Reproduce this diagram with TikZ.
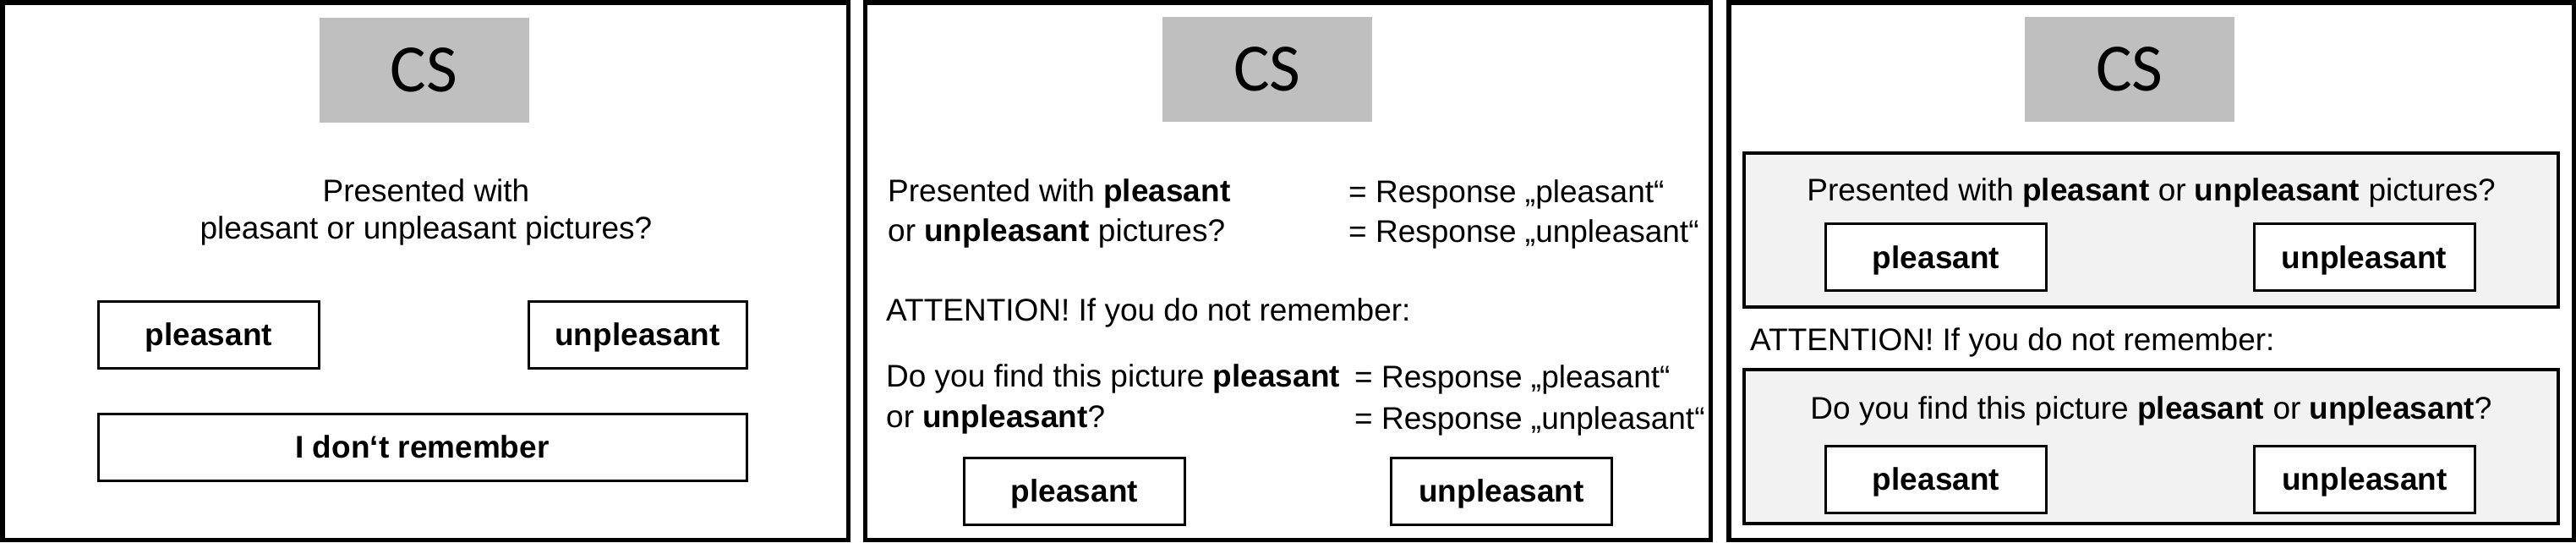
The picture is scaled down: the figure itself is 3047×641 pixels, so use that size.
\documentclass[tikz,border=0pt]{standalone}
\usepackage{fontspec}
\setmainfont{Liberation Sans}
\newfontfamily\csfont{Carlito}
\definecolor{csgray}{HTML}{BFBFBF}
\definecolor{boxgray}{HTML}{F2F2F2}
\begin{document}
\begin{tikzpicture}[x=1pt,y=-1pt,
  panel/.style={draw=black,line width=5.5pt},
  csbox/.style={fill=csgray,inner sep=0pt,minimum width=248pt,minimum height=124pt,
    font=\csfont\fontsize{80}{96}\selectfont,text height=51.5pt,text depth=0pt},
  txt/.style={font=\fontsize{37}{44}\selectfont,inner sep=0pt,anchor=base west},
  ctxt/.style={txt,anchor=base},
  btn/.style={draw=black,line width=3pt,fill=white,
    font=\bfseries\fontsize{37}{44}\selectfont,text height=26.5pt,text depth=0pt,
    inner sep=0pt,minimum height=79pt,minimum width=261pt},
  greybox/.style={draw=black,line width=3.5pt,fill=boxgray}]
\useasboundingbox (0,0) rectangle (3047,641);
% panels
\draw[panel] (2.75,2.75) rectangle (1003.25,638.25);
\draw[panel] (1023.5,2.75) rectangle (2023.3,638.25);
\draw[panel] (2044.75,2.75) rectangle (3044.25,638.25);

% ---------- panel 1 ----------
\node[csbox] (cs1) at (501.5,82.5) {CS};
\node[ctxt] (q1a) at (504,238) {Presented with};
\node[ctxt] (q1b) at (504,282) {pleasant or unpleasant pictures?};
\node[btn] (p1) at (247,395.5) {pleasant};
\node[btn,minimum width=258pt] (u1) at (754,395.5) {unpleasant};
\node[btn,minimum width=767pt] (d1) at (499.5,528.5) {I don‘t remember};

% ---------- panel 2 ----------
\node[csbox] (cs2) at (1499,82) {CS};
\node[txt] (q2a) at (1050,238) {Presented with \textbf{pleasant}};
\node[txt] (q2b) at (1050,285) {or \textbf{unpleasant} pictures?};
\node[txt] (r2a) at (1595,239) {= Response „pleasant“};
\node[txt] (r2b) at (1595,286) {= Response „unpleasant“};
\node[txt] (a2) at (1048,379) {ATTENTION! If you do not remember:};
\node[txt] (q2c) at (1048,457) {Do you find this picture \textbf{pleasant}};
\node[txt] (q2d) at (1048,505) {or \textbf{unpleasant}?};
\node[txt] (r2c) at (1602,458) {= Response „pleasant“};
\node[txt] (r2d) at (1602,507) {= Response „unpleasant“};
\node[btn] (p2) at (1271,580.5) {pleasant};
\node[btn] (u2) at (1776,580.5) {unpleasant};

% ---------- panel 3 ----------
\node[csbox] (cs3) at (2519,82) {CS};
\draw[greybox] (2063,181) rectangle (3026,363);
\draw[greybox] (2063,437) rectangle (3026,619);
\node[ctxt] (q3a) at (2544.5,237) {Presented with \textbf{pleasant} or \textbf{unpleasant} pictures?};
\node[btn] (p3) at (2290,304) {pleasant};
\node[btn] (u3) at (2796.5,304) {unpleasant};
\node[txt] (a3) at (2070,414) {ATTENTION! If you do not remember:};
\node[ctxt] (q3b) at (2544.5,495) {Do you find this picture \textbf{pleasant} or \textbf{unpleasant}?};
\node[btn] (p3b) at (2290,566.5) {pleasant};
\node[btn] (u3b) at (2797,566.5) {unpleasant};
\end{tikzpicture}
\end{document}
